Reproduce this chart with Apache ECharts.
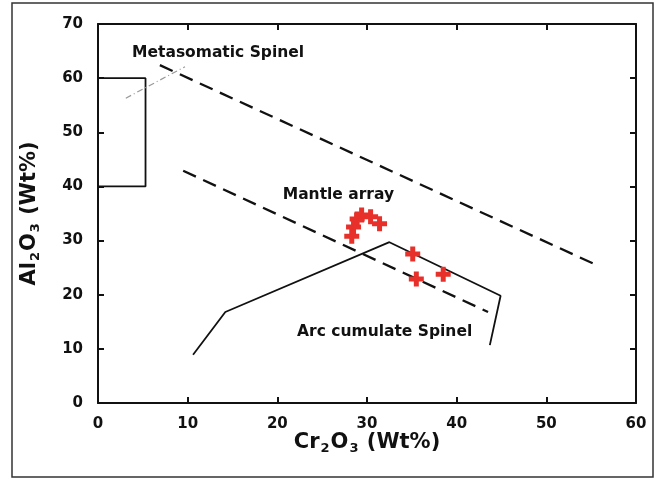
<!DOCTYPE html>
<html><head><meta charset="utf-8">
<script src="https://cdn.jsdelivr.net/npm/echarts@6/dist/echarts.min.js"></script>
<style>html,body{margin:0;padding:0;background:#fff}#c{width:657px;height:481px}</style>
</head><body><div id="c"></div>
<script>
// Data (Cr2O3, Al2O3 in Wt%)
const xTicks = [0, 10, 20, 30, 40, 50, 60];
const yTicks = [0, 10, 20, 30, 40, 50, 60, 70];
const samples = [[28.3,30.8],[28.5,32.5],[28.9,34.0],[29.4,34.7],[30.4,34.4],[31.4,33.1],[35.1,27.5],[35.5,22.9],[38.5,23.8]];
const metaBox = [[0,60],[5.3,60],[5.3,40],[0,40]];
const metaDashDot = [[3.1,56.3],[9.7,62.1]];
const upperDashed = [[6.9,62.4],[55.3,25.7]];
const lowerDashed = [[9.5,42.9],[43.5,16.8]];
const arcCumulate = [[10.6,8.9],[14.2,16.8],[32.5,29.7],[44.9,19.8],[43.7,10.7]];
const labels = [
  {name:'Metasomatic Spinel', value:[3.8,64.6]},
  {name:'Mantle array', value:[20.6,38.4]},
  {name:'Arc cumulate Spinel', value:[22.2,13.1]}
];

const chart = echarts.init(document.getElementById('c'));
const F = '"DejaVu Sans", sans-serif';
const nameRich = {
  b: {fontFamily: F, fontWeight: 'bold', fontSize: 21, color: '#111'},
  s: {fontFamily: F, fontWeight: 'bold', fontSize: 13, color: '#111', verticalAlign: 'bottom', padding: [12, 1, 0, 1]}
};
function axis(extra) {
  return Object.assign({
    type: 'value', min: 0, interval: 10,
    axisLine: {show: true, onZero: false, lineStyle: {color: '#111', width: 2}},
    axisTick: {show: true, inside: true, length: 6, lineStyle: {color: '#111', width: 2}},
    splitLine: {show: false}
  }, extra);
}
chart.setOption({
  animation: false,
  backgroundColor: '#fff',
  graphic: [{type: 'rect', shape: {x: 12, y: 3, width: 641, height: 474}, style: {fill: 'none', stroke: '#333', lineWidth: 1.5}, z: 100}],
  grid: {left: 98, top: 24, width: 538, height: 379},
  xAxis: [
    axis({max: 60, position: 'bottom',
      name: '{b|Cr}{s|2}{b|O}{s|3}{b| (Wt%)}', nameLocation: 'middle', nameGap: 27, nameMoveOverlap: false,
      nameTextStyle: {rich: nameRich},
      axisLabel: {fontFamily: F, fontWeight: 'bold', fontSize: 15, color: '#111', margin: 14, formatter: v => xTicks.includes(v) ? String(v) : ''}}),
    axis({max: 60, position: 'top', axisLabel: {show: false}})
  ],
  yAxis: [
    axis({max: 70, position: 'left',
      name: '{b|Al}{s|2}{b|O}{s|3}{b| (Wt%)}', nameLocation: 'middle', nameGap: 56,
      nameTextStyle: {rich: nameRich},
      axisLabel: {fontFamily: F, fontWeight: 'bold', fontSize: 15, color: '#111', margin: 15, formatter: v => yTicks.includes(v) ? String(v) : ''}}),
    axis({max: 70, position: 'right', axisLabel: {show: false}})
  ],
  series: [
    {type: 'line', data: metaBox, symbol: 'none', lineStyle: {color: '#111', width: 1.8}, z: 3},
    {type: 'line', data: metaDashDot, symbol: 'none', lineStyle: {color: '#999', width: 1.2, type: [6, 3, 1, 3]}, z: 3},
    {type: 'line', data: upperDashed, symbol: 'none', lineStyle: {color: '#111', width: 2.3, type: [14, 8]}, z: 3},
    {type: 'line', data: lowerDashed, symbol: 'none', lineStyle: {color: '#111', width: 2.3, type: [14, 8]}, z: 3},
    {type: 'line', data: arcCumulate, symbol: 'none', lineStyle: {color: '#111', width: 1.8}, z: 3},
    {type: 'scatter', data: samples, symbol: 'path://M-1,-3L1,-3L1,-1L3,-1L3,1L1,1L1,3L-1,3L-1,1L-3,1L-3,-1L-1,-1Z', symbolSize: 15,
      itemStyle: {color: '#e8302a', opacity: 1}, z: 5},
    {type: 'scatter', data: labels, symbolSize: 0, silent: true, itemStyle: {opacity: 1},
      label: {show: true, position: 'right', distance: 0, formatter: p => p.name, fontFamily: F, fontWeight: 'bold', fontSize: 15.5, color: '#111'}, z: 6}
  ]
});
</script></body></html>
